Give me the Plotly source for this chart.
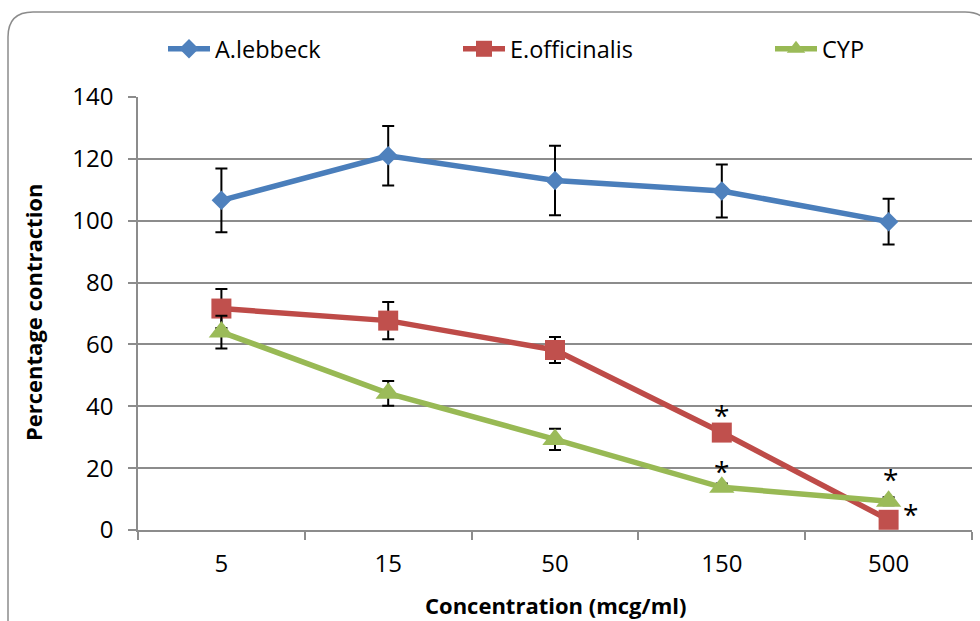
import plotly.graph_objects as go

categories = ["5", "15", "50", "150", "500"]
a_lebbeck = [106.6, 121.0, 113.0, 109.6, 99.7]
a_lebbeck_err = [10.3, 9.6, 11.2, 8.6, 7.4]
e_officinalis = [71.6, 67.7, 58.2, 31.5, 3.3]
e_officinalis_err = [6.3, 6.0, 4.2, 1.5, 1.0]
cyp = [64.0, 44.2, 29.3, 13.8, 9.3]
cyp_err = [5.3, 4.0, 3.4, 1.2, 1.3]
y_ticks = [0, 20, 40, 60, 80, 100, 120, 140]

# significance marks: (series values, category index, x shift px, y shift px)
sig_marks = [(e_officinalis, 3, 0, 18), (cyp, 3, 0, 16), (cyp, 4, 2, 22), (e_officinalis, 4, 22, 6)]

FONT = "Open Sans"
W, H = 980, 621
L, R, T, B = 138, 8, 97, 91
pw, ph = W - L - R, H - T - B

def px(x):
    return (x - L) / pw

def py(y):
    return (H - B - y) / ph

fig = go.Figure()

series = [
    ("A.lebbeck", a_lebbeck, a_lebbeck_err, "#4A7EBB", "#4F81BD", "diamond", 15, "legend"),
    ("E.officinalis", e_officinalis, e_officinalis_err, "#BE4B48", "#C0504D", "square", 20, "legend2"),
    ("CYP", cyp, cyp_err, "#98B954", "#9BBB59", "triangle-up", 22, "legend3"),
]
for name, vals, err, lc, mc, sym, size, leg in series:
    fig.add_trace(go.Scatter(
        x=categories, y=vals, name=name, mode="lines+markers",
        line=dict(color=lc, width=5.5),
        marker=dict(color=mc, symbol=sym, size=size, line=dict(width=0)),
        error_y=dict(type="data", array=err, visible=True, color="black", thickness=2, width=6),
        legend=leg, showlegend=True,
    ))

for vals, i, dx, dy in sig_marks:
    fig.add_annotation(x=i, y=vals[i], text="*", showarrow=False,
                       xshift=dx, yshift=dy, font=dict(family=FONT, size=28, color="black"))

# axis titles
fig.add_annotation(xref="paper", yref="paper", x=px(555), y=py(605), xanchor="center", yanchor="middle",
                   text="<b>Concentration (mcg/ml)</b>",
                   showarrow=False, font=dict(family=FONT, size=22, color="black"))
fig.add_annotation(xref="paper", yref="paper", x=px(33), y=py(313), xanchor="center", yanchor="middle",
                   text="<b>Percentage contraction</b>",
                   showarrow=False, textangle=-90, font=dict(family=FONT, size=22, color="black"))

# rounded border
r = 25
x0, y0, x1, y1 = 8, 12, 990, 660
pts = [
    f"M {px(x0)},{py(y1)}",
    f"L {px(x0)},{py(y0 + r)}",
    f"Q {px(x0)},{py(y0)} {px(x0 + r)},{py(y0)}",
    f"L {px(x1 - r)},{py(y0)}",
    f"Q {px(x1)},{py(y0)} {px(x1)},{py(y0 + r)}",
    f"L {px(x1)},{py(y1)}",
]
fig.add_shape(type="path", xref="paper", yref="paper", path=" ".join(pts),
              line=dict(color="#8C8C8C", width=1.5), layer="below")

leg_common = dict(orientation="h", yanchor="middle", xanchor="left", itemwidth=42,
                  font=dict(family=FONT, size=23.5, color="black"), bgcolor="rgba(0,0,0,0)",
                  borderwidth=0, itemclick=False)

fig.update_layout(
    width=W, height=H,
    margin=dict(l=L, r=R, t=T, b=B),
    paper_bgcolor="white", plot_bgcolor="white",
    showlegend=True,
    font=dict(family=FONT, size=22, color="black"),
    legend=dict(x=px(163), y=py(49), **leg_common),
    legend2=dict(x=px(458), y=py(49), **leg_common),
    legend3=dict(x=px(770), y=py(49), **leg_common),
    xaxis=dict(
        type="category", range=[-0.5, 4.5], tickson="boundaries",
        ticks="outside", ticklen=8, tickcolor="#8C8C8C", tickwidth=1.5,
        showline=True, linecolor="#8C8C8C", linewidth=1.5, showgrid=False,
        ticklabelstandoff=11, tickfont=dict(family=FONT, size=24, color="black"),
        fixedrange=True,
    ),
    yaxis=dict(
        range=[0, 140], tickvals=y_ticks, ticks="outside", ticklen=8,
        tickcolor="#8C8C8C", tickwidth=1.5, showline=True, linecolor="#8C8C8C", linewidth=1.5,
        showgrid=True, gridcolor="#8C8C8C", gridwidth=1.5, zeroline=False,
        ticklabelstandoff=10, tickfont=dict(family=FONT, size=24, color="black"),
        fixedrange=True,
    ),
)

fig.write_html("out.html", config={"displayModeBar": False},
               post_script="document.body.style.margin='0px';")
